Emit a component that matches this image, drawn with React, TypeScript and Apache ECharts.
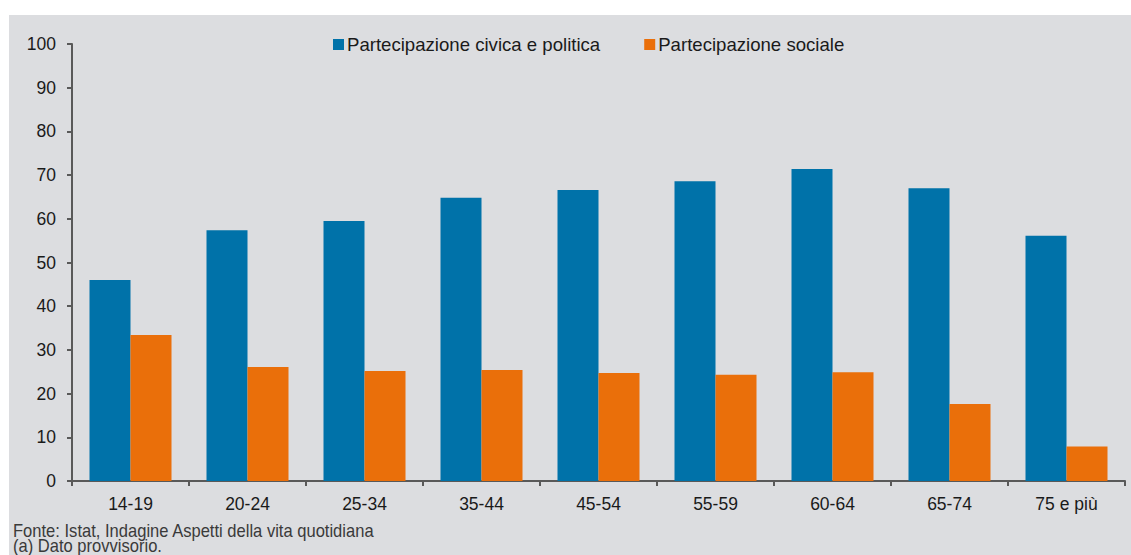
import React, { useEffect, useRef } from "react";
import * as echarts from "echarts";

const categories = ["14-19", "20-24", "25-34", "35-44", "45-54", "55-59", "60-64", "65-74", "75 e più"];
const civica = [46.0, 57.4, 59.5, 64.8, 66.6, 68.6, 71.4, 67.0, 56.1];
const sociale = [33.4, 26.1, 25.2, 25.4, 24.7, 24.3, 24.9, 17.6, 7.9];
const seriesNames = ["Partecipazione civica e politica", "Partecipazione sociale"];
const footer = ["Fonte: Istat, Indagine Aspetti della vita quotidiana", "(a) Dato provvisorio."];

export default function App() {
  const ref = useRef<HTMLDivElement>(null);
  useEffect(() => {
    if (!ref.current) return;
    const chart = echarts.init(ref.current, null, { renderer: "svg" });
    const font = "'Liberation Sans', Arial, sans-serif";
    const footStyle = { fontFamily: font, fontSize: 18, fill: "#3a3a3a", textVerticalAlign: "top" };
    chart.setOption({
      animation: false,
      backgroundColor: "#ffffff",
      textStyle: { fontFamily: font },
      graphic: [
        { type: "rect", z: -10, shape: { x: 9, y: 15, width: 1122, height: 540 }, style: { fill: "#dcdde0" }, silent: true },
        { type: "text", x: 13, y: 522, scaleX: 0.92, style: { text: footer[0], ...footStyle } },
        { type: "text", x: 13, y: 537, scaleX: 0.92, style: { text: footer[1], ...footStyle } },
      ],
      legend: {
        top: 30,
        left: 328,
        itemWidth: 11,
        itemHeight: 11,
        itemGap: 44,
        icon: "rect",
        textStyle: { fontSize: 18.6, color: "#1a1a1a", fontFamily: font, padding: [0, 0, 0, -2] },
        data: seriesNames,
      },
      grid: { left: 72, right: 6, top: 44, bottom: 74, containLabel: false },
      xAxis: {
        type: "category",
        data: categories,
        axisLine: { lineStyle: { color: "#595959", width: 2 } },
        axisTick: { show: true, length: 5, lineStyle: { color: "#595959", width: 2 } },
        axisLabel: { fontSize: 17.5, color: "#1a1a1a", margin: 14, fontFamily: font },
      },
      yAxis: {
        type: "value",
        min: 0,
        max: 100,
        interval: 10,
        axisLine: { show: true, lineStyle: { color: "#595959", width: 2 } },
        axisTick: { show: true, length: 5, lineStyle: { color: "#595959", width: 2 } },
        axisLabel: { fontSize: 17.5, color: "#1a1a1a", margin: 16, fontFamily: font },
        splitLine: { show: false },
      },
      series: [
        { name: seriesNames[0], type: "bar", data: civica, barWidth: 41, barGap: "0%", itemStyle: { color: "#0072a9" } },
        { name: seriesNames[1], type: "bar", data: sociale, barWidth: 41, barGap: "0%", itemStyle: { color: "#ea6f0a" } },
      ],
    });
    return () => chart.dispose();
  }, []);
  return <div ref={ref} style={{ position: "fixed", left: 0, top: 0, width: 1131, height: 555 }} />;
}
